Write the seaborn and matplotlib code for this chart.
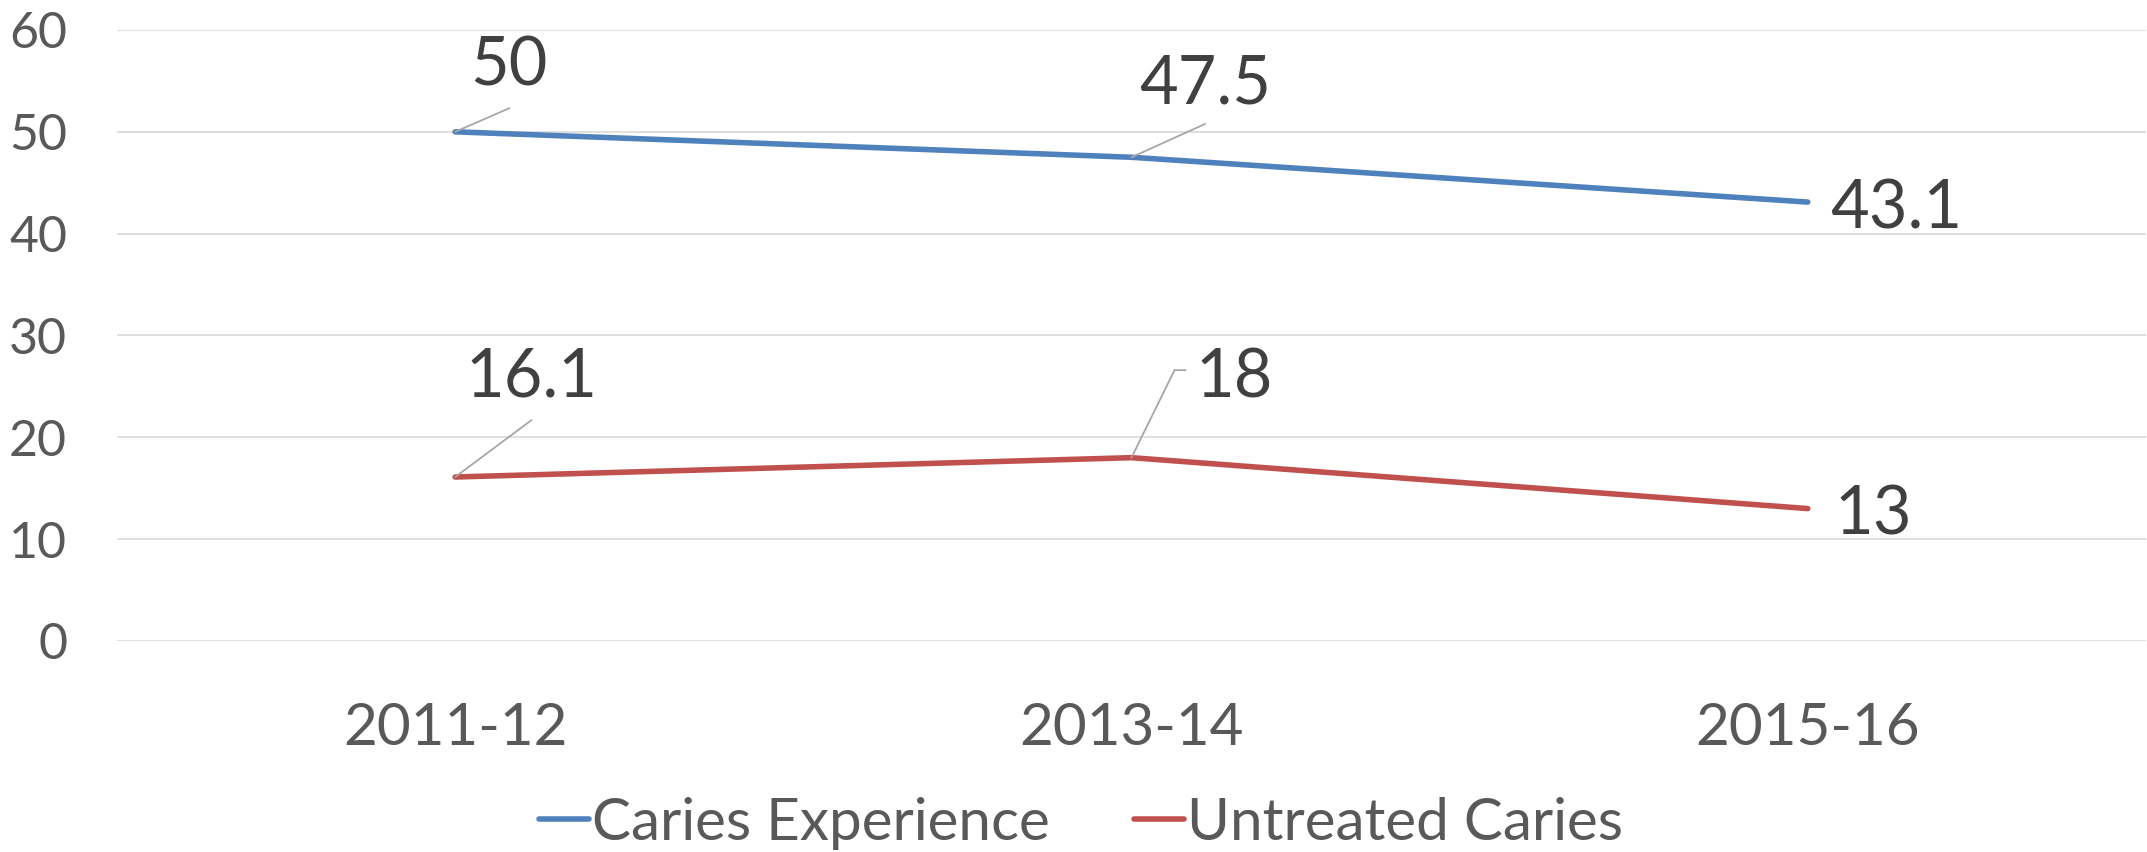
import pandas as pd
import matplotlib
matplotlib.use("Agg")
import matplotlib.pyplot as plt
from matplotlib.transforms import offset_copy
import seaborn as sns

periods = ["2011-12", "2013-14", "2015-16"]
caries_experience = [50, 47.5, 43.1]
untreated_caries = [16.1, 18, 13]
series_names = ["Caries Experience", "Untreated Caries"]
y_ticks = [0, 10, 20, 30, 40, 50, 60]

data = pd.DataFrame({
    "Period": periods * 2,
    "Percent": caries_experience + untreated_caries,
    "Series": [series_names[0]] * 3 + [series_names[1]] * 3,
})

sns.set_style("white")
plt.rcParams["font.family"] = ["Lato", "DejaVu Sans"]

fig = plt.figure(figsize=(21.47, 8.52), dpi=100)
ax = fig.add_axes([0.0545, 0.2477, 0.945, 0.7171])

sns.lineplot(data=data, x="Period", y="Percent", hue="Series", ax=ax,
             palette=["#4F81BD", "#C0504D"], linewidth=4,
             solid_capstyle="round", legend=True)

ax.set_xlim(-0.5, 2.5)
ax.set_ylim(0, 60)
ax.set_yticks(y_ticks)
ax.set_xlabel("")
ax.set_ylabel("")
ax.grid(axis="y", color="#D9D9D9", linewidth=1.2)
ax.set_axisbelow(True)
for s in ax.spines.values():
    s.set_visible(False)
ax.tick_params(axis="y", length=0, pad=36, labelsize=36, labelcolor="#595959")
ax.tick_params(axis="x", length=0, pad=44, labelsize=42, labelcolor="#595959")

# data labels: text offset (points), leader end or None, alignment
lead = dict(arrowstyle="-", color="#A6A6A6", lw=1.3, shrinkA=0, shrinkB=0)
label_spots = {
    series_names[0]: [((39, 33), (39, 17), "center"),
                      ((53, 39), (53, 24), "center"),
                      ((16, -19), None, "left")],
    series_names[1]: [((55, 58), (55, 41), "center"),
                      ((46, 43), None, "left"),
                      ((19, -19), None, "left")],
}
values = {series_names[0]: caries_experience, series_names[1]: untreated_caries}
for name in series_names:
    for i, (v, (txt_off, lead_end, ha)) in enumerate(zip(values[name], label_spots[name])):
        if lead_end is not None:
            ax.annotate("", xy=(i, v), xytext=lead_end, textcoords="offset points",
                        arrowprops=lead)
        ax.annotate(f"{v:g}", xy=(i, v), xytext=txt_off, textcoords="offset points",
                    ha=ha, va="baseline", fontsize=48, color="#404040")

# bent leader for the "18" label
ax.annotate("", xy=(1, untreated_caries[1]), xytext=(31, 63), textcoords="offset points",
            arrowprops=lead)
elbow = offset_copy(ax.transData, fig=fig, x=31, y=63, units="points")
ax.annotate("", xy=(1, untreated_caries[1]), xycoords=elbow, xytext=(8, 0),
            textcoords="offset points", arrowprops=lead)

handles, labels = ax.get_legend_handles_labels()
ax.legend(handles, labels, loc="center", bbox_to_anchor=(0.5035, 1 - 823 / 852),
          bbox_transform=fig.transFigure, ncol=2, frameon=False, fontsize=42,
          labelcolor="#595959", handlelength=0.85, handletextpad=0.05,
          columnspacing=1.45)

fig.savefig("out.png", dpi=100)
